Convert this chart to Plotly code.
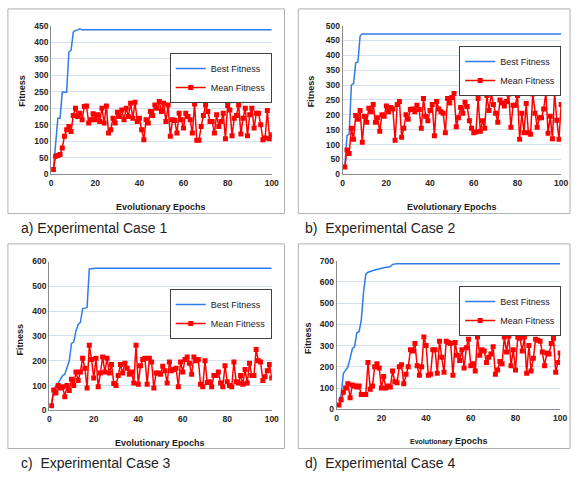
import plotly.graph_objects as go

W, H = 579, 477

epochs = list(range(1, 101))

best_a = [15, 100, 170, 170, 248, 248, 248, 370, 375, 430, 435, 437, 440] + [437] * 87
mean_a = [15, 55, 57, 60, 80, 115, 135, 145, 130, 178,
          200, 175, 185, 165, 205, 207, 155, 165, 183, 165,
          180, 160, 200, 155, 207, 125, 135, 170, 155, 188,
          175, 195, 165, 200, 175, 215, 170, 218, 160, 170,
          135, 105, 165, 155, 190, 178, 210, 200, 220, 190,
          215, 160, 210, 115, 165, 163, 125, 185, 165, 140,
          185, 175, 165, 125, 213, 103, 103, 145, 178, 210,
          190, 160, 160, 125, 180, 145, 160, 185, 108, 208,
          195, 117, 170, 178, 210, 122, 170, 200, 117, 180,
          200, 140, 185, 185, 150, 105, 110, 193, 108, 120]

best_b = [25, 130, 135, 300, 305, 375, 378, 465, 472] + [472] * 91
mean_b = [25, 82, 70, 155, 118, 198, 185, 215, 108, 195,
          175, 222, 210, 235, 175, 190, 145, 200, 195, 230,
          210, 225, 220, 115, 235, 245, 125, 155, 200, 185,
          218, 220, 210, 232, 218, 155, 255, 195, 180, 215,
          235, 130, 245, 220, 210, 205, 140, 255, 240, 258,
          272, 160, 190, 225, 205, 242, 228, 180, 155, 140,
          142, 255, 145, 180, 155, 265, 215, 272, 235, 205,
          175, 250, 240, 230, 245, 270, 158, 232, 232, 265,
          118, 205, 140, 238, 140, 135, 270, 205, 158, 190,
          190, 220, 275, 138, 195, 120, 275, 182, 118, 235]

best_c = [20, 80, 100, 110, 125, 140, 145, 170, 200, 270,
          275, 320, 345, 355, 410, 412, 415, 570, 572] + [573] * 81
mean_c = [18, 82, 70, 100, 90, 95, 55, 100, 80, 125,
          100, 155, 120, 155, 210, 170, 90, 262, 205, 130,
          210, 95, 150, 215, 155, 210, 150, 185, 108, 100,
          140, 185, 150, 190, 170, 145, 155, 110, 262, 105,
          180, 205, 210, 105, 210, 195, 90, 150, 150, 145,
          178, 160, 110, 195, 160, 165, 170, 95, 195, 155,
          205, 215, 190, 145, 215, 200, 205, 105, 95, 200,
          112, 115, 95, 140, 140, 155, 110, 95, 180, 115,
          100, 95, 195, 115, 110, 140, 105, 165, 110, 190,
          140, 140, 245, 200, 195, 120, 135, 160, 185, 130]

best_d = [40, 70, 170, 185, 200, 240, 285, 295, 360, 365,
          420, 550, 635, 645, 650, 652, 655, 658, 660, 665,
          667, 668, 668, 672, 682] + [685] * 75
mean_d = [20, 45, 80, 100, 120, 55, 115, 110, 105, 110,
          70, 70, 70, 220, 95, 110, 200, 215, 195, 100,
          155, 100, 110, 105, 180, 130, 125, 200, 210, 120,
          165, 200, 280, 275, 310, 205, 160, 200, 340, 300,
          160, 165, 280, 280, 170, 320, 245, 175, 320, 315,
          310, 160, 315, 255, 230, 280, 195, 290, 330, 205,
          215, 180, 340, 255, 280, 275, 220, 245, 260, 295,
          165, 185, 225, 215, 340, 270, 345, 205, 280, 185,
          340, 335, 275, 340, 170, 300, 180, 240, 330, 325,
          320, 270, 205, 265, 260, 310, 335, 175, 220, 265]

y_max = [450, 500, 600, 700]
y_step = [50, 50, 100, 100]
captions = ["a) Experimental Case 1", "b)  Experimental Case 2",
            "c)  Experimental Case 3", "d)  Experimental Case 4"]
x_titles = ["Evolutionary Epochs", "Evolutionary Epochs", "Evolutionary Epochs",
            "<span style='font-size:7px'>Evolutionary</span> Epochs"]

BLUE = "#2F7BEA"
RED = "#FF0000"


def px(x):
    return x / W


def py(y):
    return 1 - y / H


# pixel geometry of each panel: plot area (x0, x100, ytop, ybottom), border box,
# legend top-right corner, caption, axis-title centres
panels = [
    dict(pa=(50, 274, 21, 173), box=(6, 4, 287, 213), leg=(274, 49), cap=(17, 228),
         yt=(20, 88), xt=(162, 206)),
    dict(pa=(346, 568, 21, 173), box=(301, 4, 577, 213), leg=(568, 42), cap=(306, 228),
         yt=(314, 88), xt=(457, 206)),
    dict(pa=(48, 274, 262, 414), box=(6, 244, 287, 453), leg=(274, 290), cap=(17, 468),
         yt=(18, 342), xt=(161, 447)),
    dict(pa=(340, 567, 261, 413), box=(301, 244, 577, 453), leg=(568, 287), cap=(306, 468),
         yt=(311, 340), xt=(454, 445)),
]

bests = [best_a, best_b, best_c, best_d]
means = [mean_a, mean_b, mean_c, mean_d]

fig = go.Figure()
layout = dict(width=W, height=H, autosize=False, margin=dict(l=0, r=0, t=0, b=0),
              paper_bgcolor="white", plot_bgcolor="white", showlegend=True)
shapes, annotations = [], []

tickfont = dict(family="Liberation Sans, Arial", size=8.5, color="#262626", weight="bold")

for i, p in enumerate(panels):
    sfx = "" if i == 0 else str(i + 1)
    legname = "legend" + sfx
    x0, x1, yt, yb = p["pa"]
    fig.add_trace(go.Scatter(x=epochs, y=bests[i], mode="lines", name="Best Fitness",
                             line=dict(color=BLUE, width=1.5),
                             xaxis="x" + sfx, yaxis="y" + sfx, legend=legname))
    fig.add_trace(go.Scatter(x=epochs, y=means[i], mode="lines+markers", name="Mean Fitness",
                             line=dict(color=RED, width=1.5),
                             marker=dict(symbol="square", size=5, color=RED),
                             xaxis="x" + sfx, yaxis="y" + sfx, legend=legname))
    layout["xaxis" + sfx] = dict(domain=[px(x0), px(x1)], range=[0, 100], dtick=20, tick0=0,
                                 showgrid=False, zeroline=False, showline=True,
                                 linecolor="#8C8C8C", linewidth=1, ticks="",
                                 tickfont=tickfont, anchor="y" + sfx, fixedrange=True)
    layout["yaxis" + sfx] = dict(domain=[py(yb), py(yt)], range=[0, y_max[i]], dtick=y_step[i],
                                 tick0=0, showgrid=True, gridcolor="#D5E0F0", gridwidth=1,
                                 zeroline=False, showline=True, linecolor="#8C8C8C",
                                 linewidth=1, ticks="",
                                 tickfont=tickfont, anchor="x" + sfx, fixedrange=True)
    lx, ly = p["leg"]
    layout[legname] = dict(x=px(lx), y=py(ly), xanchor="right", yanchor="top",
                           bgcolor="white", bordercolor="#404040", borderwidth=1,
                           font=dict(family="Liberation Sans, Arial", size=9, color="#1a1a1a"),
                           itemwidth=30, tracegroupgap=0)
    bx0, by0, bx1, by1 = p["box"]
    shapes.append(dict(type="rect", xref="paper", yref="paper",
                       x0=px(bx0), x1=px(bx1), y0=py(by1), y1=py(by0),
                       line=dict(color="#B0B0B0", width=1), fillcolor="rgba(0,0,0,0)"))
    cx, cy = p["cap"]
    annotations.append(dict(text=captions[i], xref="paper", yref="paper", x=px(cx), y=py(cy),
                            xanchor="left", yanchor="middle", showarrow=False,
                            font=dict(family="Liberation Sans, Arial", size=14, color="#222222")))
    tx, ty = p["yt"]
    annotations.append(dict(text="Fitness", xref="paper", yref="paper", x=px(tx), y=py(ty),
                            xanchor="center", yanchor="middle", showarrow=False, textangle=-90,
                            font=dict(family="Liberation Sans, Arial", size=9, color="#1a1a1a",
                                      weight="bold")))
    ax, ay = p["xt"]
    annotations.append(dict(text=x_titles[i], xref="paper", yref="paper", x=px(ax), y=py(ay),
                            xanchor="center", yanchor="middle", showarrow=False,
                            font=dict(family="Liberation Sans, Arial", size=9, color="#1a1a1a",
                                      weight="bold")))

layout["shapes"] = shapes
layout["annotations"] = annotations
fig.update_layout(**layout)
fig.write_html("out.html", config={"displayModeBar": False},
               post_script="document.body.style.margin='0';document.body.style.overflow='hidden';")
